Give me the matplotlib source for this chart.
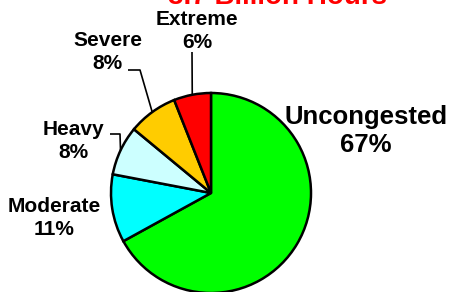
import numpy as np
import matplotlib.pyplot as plt

plt.rcParams['font.family'] = ['Liberation Sans', 'DejaVu Sans']

# Data
categories = ['Uncongested', 'Moderate', 'Heavy', 'Severe', 'Extreme']
shares = [67, 11, 8, 8, 6]
colors = ['#00FF00', '#00FFFF', '#CCFFFF', '#FFCC00', '#FF0000']
title = '3.7 Billion Hours'

fig = plt.figure(figsize=(4.52, 2.92), dpi=100)
ax = fig.add_axes([0, 0, 1, 1])

wedges, _ = ax.pie(shares, colors=colors, startangle=90, counterclock=False,
                   radius=1.0, center=(0, 0),
                   wedgeprops=dict(edgecolor='black', linewidth=1.8))

ax.set_xlim(-2.11, 2.41)
ax.set_ylim(-0.99, 1.93)
ax.set_aspect('equal')
ax.axis('off')


def edge_point(w):
    mid = np.deg2rad((w.theta1 + w.theta2) / 2)
    return np.cos(mid), np.sin(mid)


# label text: (x, y of last baseline, fontsize, linespacing)
label_pos = {
    'Uncongested': (1.55, 0.41, 18.5, 1.22),
    'Moderate': (-1.57, -0.42, 15, 1.25),
    'Heavy': (-1.38, 0.35, 15, 1.25),
    'Severe': (-1.035, 1.24, 15, 1.25),
    'Extreme': (-0.14, 1.45, 15, 1.3),
}
for cat, val in zip(categories, shares):
    x, y, fs, ls = label_pos[cat]
    ax.text(x, y, f'{cat}\n{val}%', ha='center', va='baseline',
            fontsize=fs, fontweight='bold', linespacing=ls,
            multialignment='center')

# leader lines
leaders = {
    'Heavy': [(-1.01, 0.59), (-0.91, 0.59)],
    'Severe': [(-0.83, 1.23), (-0.71, 1.23)],
    'Extreme': [(-0.19, 1.41)],
}
for cat, pts in leaders.items():
    w = wedges[categories.index(cat)]
    ex, ey = edge_point(w)
    xs = [p[0] for p in pts] + [ex]
    ys = [p[1] for p in pts] + [ey]
    ax.plot(xs, ys, color='black', linewidth=1.2, solid_capstyle='butt')

ax.text(0.66, 1.89, title, ha='center', va='baseline', color='#FF0000',
        fontsize=20, fontweight='bold')

fig.savefig('out.png', dpi=100)
